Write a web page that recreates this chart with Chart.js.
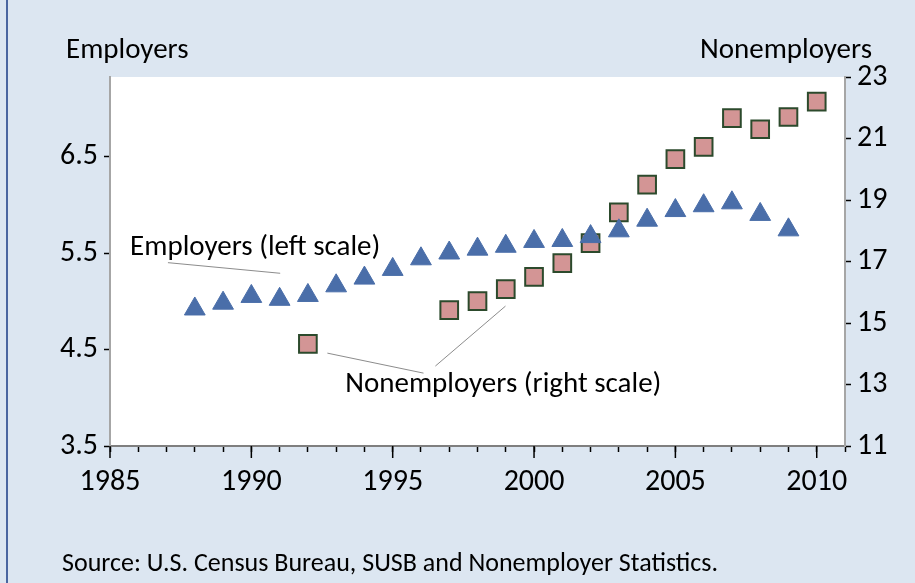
<!DOCTYPE html>
<html>
<head>
<meta charset="utf-8">
<script src="https://cdn.jsdelivr.net/npm/chart.js@4/dist/chart.umd.min.js"></script>
<style>
  body { margin: 0; width: 915px; height: 583px; background: #dce6f1; position: relative; overflow: hidden; font-family: Carlito, Lato, sans-serif; }
  #chart { position: absolute; left: 0; top: 0; }
  .edge { position: absolute; left: 6px; top: 0; width: 2px; height: 583px; background: #4a66a0; }
  .lbl { position: absolute; font-size: 29px; color: #000; line-height: 34px; white-space: nowrap; }
  #t-left { left: 66px; top: 31px; }
  #t-right { right: 43px; top: 31px; }
  #source { left: 62px; top: 546px; font-size: 26px; line-height: 32px; }
</style>
</head>
<body>
<div class="edge"></div>
<canvas id="chart" width="915" height="583"></canvas>
<div class="lbl" id="t-left">Employers</div>
<div class="lbl" id="t-right">Nonemployers</div>
<div class="lbl" id="source">Source: U.S. Census Bureau, SUSB and Nonemployer Statistics.</div>
<script>
// Employer firms, millions (left scale)
const employerYears = [1988, 1989, 1990, 1991, 1992, 1993, 1994, 1995, 1996, 1997, 1998,
    1999, 2000, 2001, 2002, 2003, 2004, 2005, 2006, 2007, 2008, 2009];
const employers = [4.92, 4.98, 5.05, 5.02, 5.06, 5.16, 5.24, 5.33, 5.44, 5.50, 5.54,
    5.57, 5.62, 5.63, 5.67, 5.73, 5.84, 5.94, 5.99, 6.02, 5.90, 5.74];

// Nonemployer firms, millions (right scale)
const nonemployerYears = [1992, 1997, 1998, 1999, 2000, 2001, 2002, 2003, 2004, 2005, 2006, 2007, 2008, 2009, 2010];
const nonemployers = [14.32, 15.42, 15.71, 16.10, 16.50, 16.95, 17.60, 18.60, 19.50, 20.33, 20.73, 21.66, 21.30, 21.70, 22.20];

const leftTicks = [3.5, 4.5, 5.5, 6.5];
const rightTicks = [11, 13, 15, 17, 19, 21, 23];

const FONT = 'Carlito, Lato, sans-serif';

// In-chart labels, placed in data units (year, value on the given axis)
const notes = [
    { text: 'Employers (left scale)', x: 1985.71, y: 5.55, axis: 'y',
      line: [[1987.05, 5.40, 1991.02, 5.29]] },
    { text: 'Nonemployers (right scale)', x: 1993.32, y: 12.98, axis: 'y1',
      line: [[1992.69, 14.02, 1996.09, 13.37], [1996.51, 13.60, 1998.99, 15.55]] }
];

const plotBackground = {
    id: 'plotBackground',
    beforeDraw(chart) {
        const { ctx, chartArea: a } = chart;
        ctx.save();
        ctx.fillStyle = '#ffffff';
        ctx.fillRect(a.left, a.top, a.right - a.left, a.bottom - a.top);
        ctx.restore();
    }
};

const extras = {
    id: 'extras',
    afterDraw(chart) {
        const { ctx, scales } = chart;
        const x = scales.x;
        ctx.save();
        // longer ticks at every five years
        ctx.strokeStyle = '#000';
        ctx.lineWidth = 1.5;
        for (let v = 1985; v <= 2010; v += 5) {
            const px = x.getPixelForValue(v);
            ctx.beginPath();
            ctx.moveTo(px, x.top);
            ctx.lineTo(px, x.top + 12);
            ctx.stroke();
        }
        // notes
        ctx.font = '29px ' + FONT;
        ctx.fillStyle = '#000';
        ctx.textBaseline = 'middle';
        ctx.strokeStyle = '#8c8c8c';
        ctx.lineWidth = 1;
        notes.forEach(n => {
            const ys = scales[n.axis];
            ctx.fillText(n.text, x.getPixelForValue(n.x), ys.getPixelForValue(n.y));
            n.line.forEach(l => {
                ctx.beginPath();
                ctx.moveTo(x.getPixelForValue(l[0]), ys.getPixelForValue(l[1]));
                ctx.lineTo(x.getPixelForValue(l[2]), ys.getPixelForValue(l[3]));
                ctx.stroke();
            });
        });
        ctx.restore();
    }
};

const tickFont = { family: FONT, size: 30 };

new Chart(document.getElementById('chart'), {
    type: 'scatter',
    data: {
        datasets: [
            {
                label: 'Employers',
                data: employerYears.map((yr, i) => ({ x: yr, y: employers[i] })),
                yAxisID: 'y',
                pointStyle: 'triangle',
                pointRadius: 12,
                backgroundColor: '#4a6ea9',
                borderColor: '#4a6ea9',
                borderWidth: 1
            },
            {
                label: 'Nonemployers',
                data: nonemployerYears.map((yr, i) => ({ x: yr, y: nonemployers[i] })),
                yAxisID: 'y1',
                pointStyle: 'rect',
                pointRadius: 12.5,
                backgroundColor: '#d39595',
                borderColor: '#2c4a2c',
                borderWidth: 2
            }
        ]
    },
    options: {
        responsive: false,
        animation: false,
        layout: { padding: { top: 77, left: 0, right: 0, bottom: 0 } },
        plugins: {
            legend: { display: false },
            tooltip: { enabled: false }
        },
        scales: {
            x: {
                type: 'linear',
                min: 1985,
                max: 2011,
                afterFit(s) { s.height = 137; },
                afterBuildTicks(s) {
                    const t = [];
                    for (let v = 1985; v <= 2011; v++) t.push({ value: v });
                    s.ticks = t;
                },
                ticks: {
                    autoSkip: false,
                    maxRotation: 0,
                    padding: 12,
                    color: '#000',
                    font: tickFont,
                    callback: v => (v % 5 === 0 && v <= 2010) ? String(v) : ''
                },
                grid: { drawOnChartArea: false, tickLength: 6, tickWidth: 1.5, tickColor: '#000' },
                border: { color: '#7f7f7f', width: 2 }
            },
            y: {
                position: 'left',
                min: 3.5,
                max: 7.324,
                afterFit(s) { s.width = 110; },
                afterBuildTicks(s) { s.ticks = leftTicks.map(v => ({ value: v })); },
                ticks: {
                    padding: 6,
                    color: '#000',
                    font: tickFont,
                    callback: v => v.toFixed(1)
                },
                grid: { drawOnChartArea: false, tickLength: 6, tickWidth: 1.5, tickColor: '#000' },
                border: { color: '#a6a6a6', width: 2 }
            },
            y1: {
                position: 'right',
                min: 11,
                max: 23,
                afterFit(s) { s.width = 70; },
                afterBuildTicks(s) { s.ticks = rightTicks.map(v => ({ value: v })); },
                ticks: {
                    padding: 6,
                    color: '#000',
                    font: tickFont
                },
                grid: { drawOnChartArea: false, tickLength: 6, tickWidth: 1.5, tickColor: '#000' },
                border: { color: '#a6a6a6', width: 2 }
            }
        }
    },
    plugins: [plotBackground, extras]
});
</script>
</body>
</html>
